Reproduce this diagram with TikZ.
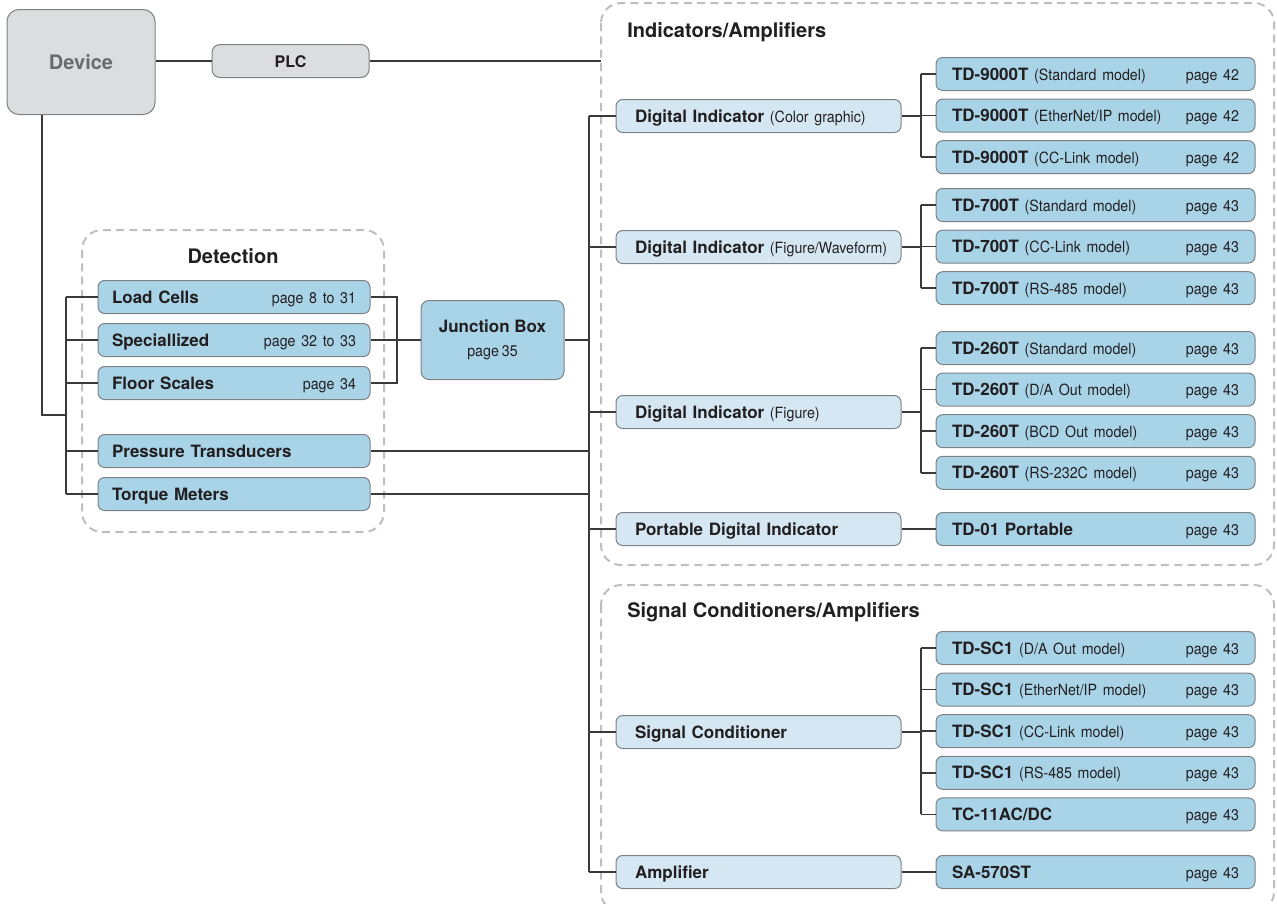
\documentclass[tikz,border=0pt]{standalone}
\usepackage{fontspec}
\setmainfont{TeX Gyre Heros}
\newfontfamily\cnd[FakeStretch=0.92,WordSpace=0.75]{TeX Gyre Heros}
\usepackage{tikz}
\usetikzlibrary{positioning}

\definecolor{modelblue}{HTML}{A9D4E8}
\definecolor{kindblue}{HTML}{D4E7F2}
\definecolor{devgray}{HTML}{DCDDDF}
\definecolor{boxline}{HTML}{7D8185}
\definecolor{dashgray}{HTML}{BEBEBE}
\definecolor{wire}{HTML}{3A3A3A}
\definecolor{ink}{HTML}{231F20}
\definecolor{devtext}{HTML}{6A6A6A}

\setlength\parindent{0pt}
\newcommand\descr[1]{{\cnd\fontsize{11.6}{13}\selectfont #1}}
\newcommand\mdl[3]{\textbf{#1} \descr{#2}\hskip 0pt plus 1filll\descr{#3}}

\begin{document}
\begin{tikzpicture}[x=0.75pt,y=-0.75pt,node distance=31.2pt]
\tikzstyle{unit} = [draw=boxline, line width=0.75pt, inner ysep=0pt, minimum height=24.75pt, font=\fontsize{12.75}{15}\selectfont, text=ink]
\tikzstyle{row} = [unit, rounded corners=5pt, text height=10pt, text depth=1pt]
\tikzstyle{model} = [row, fill=modelblue, inner xsep=12pt, text width=215.25pt]
\tikzstyle{kind} = [row, fill=kindblue, inner xsep=14.25pt, text width=185.25pt]
\tikzstyle{sensor} = [row, fill=modelblue, inner xsep=10.5pt, text width=183pt]
\tikzstyle{group} = [draw=dashgray, line width=1.5pt, dash pattern=on 6pt off 4pt, rounded corners=15pt]
\tikzstyle{title} = [font=\bfseries\fontsize{15}{18}\selectfont, text=ink, inner sep=0pt]
\tikzstyle{conn} = [draw=wire, line width=1.1pt]

\useasboundingbox (0,0) rectangle (1277,903);

% dashed groups
\draw[group] (82,230) rectangle (384,532);
\draw[group] (601,3) rectangle (1274,565);
\begin{scope}
\clip (0,0) rectangle (1277,903);
\draw[group] (601,585) rectangle (1274,912);
\end{scope}

\node[title] (dettitle) at (233,256) {Detection};
\node[title,anchor=west] (indtitle) at (627,32) {Indicators/Amplifiers};
\node[title,anchor=west] (sigtitle) at (627,612) {Signal Conditioners/Amplifiers};

\node[unit, fill=devgray, rounded corners=9pt, minimum width=111pt, minimum height=78.75pt, text height=11pt, text depth=0pt, font=\bfseries\fontsize{15}{18}\selectfont, text=devtext] (device) at (81,62) {Device};
\node[row, fill=devgray, rounded corners=6pt, minimum width=117.75pt, font=\bfseries\fontsize{12}{14}\selectfont] (plc) at (290.5,61) {PLC};

% detection
\node[sensor] (load) at (234,297) {\mdl{Load Cells}{}{page 8 to 31}};
\node[sensor] (spec) at (234,340) {\mdl{Speciallized}{}{page 32 to 33}};
\node[sensor] (floor) at (234,383) {\mdl{Floor Scales}{}{page 34}};
\node[sensor] (press) at (234,451) {\mdl{Pressure Transducers}{}{}};
\node[sensor] (torque) at (234,494) {\mdl{Torque Meters}{}{}};

\node[unit, fill=modelblue, rounded corners=6pt, minimum width=107.25pt, minimum height=59.25pt, align=center] (jbox) at (492.5,340) {\textbf{Junction Box}\\[3pt]\descr{page 35}};

% indicators and conditioners
\node[kind] (dicolor) at (758.5,116) {\mbox{\textbf{Digital Indicator} \descr{(Color graphic)}}};
\node[kind] (diwave) at (758.5,247) {\mbox{\textbf{Digital Indicator} \descr{(Figure/Waveform)}}};
\node[kind] (difig) at (758.5,412) {\mbox{\textbf{Digital Indicator} \descr{(Figure)}}};
\node[kind] (diport) at (758.5,529) {\textbf{Portable Digital Indicator}};
\node[kind] (sigcond) at (758.5,732) {\textbf{Signal Conditioner}};
\node[kind] (amp) at (758.5,872) {\textbf{Amplifier}};

\node[model] (td9a) at (1095.5,74) {\mdl{TD-9000T}{(Standard model)}{page 42}};
\node[model,below of=td9a] (td9b) {\mdl{TD-9000T}{(EtherNet/IP model)}{page 42}};
\node[model,below of=td9b] (td9c) {\mdl{TD-9000T}{(CC-Link model)}{page 42}};

\node[model] (td7a) at (1095.5,205) {\mdl{TD-700T}{(Standard model)}{page 43}};
\node[model,below of=td7a] (td7b) {\mdl{TD-700T}{(CC-Link model)}{page 43}};
\node[model,below of=td7b] (td7c) {\mdl{TD-700T}{(RS-485 model)}{page 43}};

\node[model] (td2a) at (1095.5,348) {\mdl{TD-260T}{(Standard model)}{page 43}};
\node[model,below of=td2a] (td2b) {\mdl{TD-260T}{(D/A Out model)}{page 43}};
\node[model,below of=td2b] (td2c) {\mdl{TD-260T}{(BCD Out model)}{page 43}};
\node[model,below of=td2c] (td2d) {\mdl{TD-260T}{(RS-232C model)}{page 43}};

\node[model] (td01) at (1095.5,529) {\mdl{TD-01 Portable}{}{page 43}};

\node[model] (sc1a) at (1095.5,648) {\mdl{TD-SC1}{(D/A Out model)}{page 43}};
\node[model,below of=sc1a] (sc1b) {\mdl{TD-SC1}{(EtherNet/IP model)}{page 43}};
\node[model,below of=sc1b] (sc1c) {\mdl{TD-SC1}{(CC-Link model)}{page 43}};
\node[model,below of=sc1c] (sc1d) {\mdl{TD-SC1}{(RS-485 model)}{page 43}};
\node[model,below of=sc1d] (tc11) {\mdl{TC-11AC/DC}{}{page 43}};

\node[model] (sa570) at (1095.5,872) {\mdl{SA-570ST}{}{page 43}};

% connectors
\coordinate (plcend) at (601,61);
\draw[conn] (plc.west) -- (plc.west -| device.east);
\draw[conn] (plc.east) -- (plcend);

\coordinate (devdrop) at (42,415);
\coordinate (lbus) at (66,415);
\draw[conn] (device.south -| devdrop) -- (devdrop) -- (lbus);
\draw[conn] (lbus |- load.west) -- (lbus |- torque.west);
\foreach \s in {load,spec,floor,press,torque}
  \draw[conn] (lbus |- \s.west) -- (\s.west);

\coordinate (jbend) at (397,340);
\draw[conn] (load.east) -- (load.east -| jbend) -- (floor.east -| jbend) -- (floor.east);
\draw[conn] (spec.east) -- (jbox.west);

\coordinate (mbus) at (589,0);
\draw[conn] (mbus |- dicolor.west) -- (mbus |- amp.west);
\foreach \s in {jbox,press,torque}
  \draw[conn] (\s.east) -- (\s.east -| mbus);
\foreach \s in {dicolor,diwave,difig,diport,sigcond,amp}
  \draw[conn] (mbus |- \s.west) -- (\s.west);

\coordinate (rbus) at (921,0);
\foreach \p/\a/\z in {dicolor/td9a/td9c,diwave/td7a/td7c,difig/td2a/td2d,sigcond/sc1a/tc11} {
  \draw[conn] (\p.east) -- (\p.east -| rbus);
  \draw[conn] (rbus |- \a.west) -- (rbus |- \z.west);
}
\foreach \c in {td9a,td9b,td9c,td7a,td7b,td7c,td2a,td2b,td2c,td2d,sc1a,sc1b,sc1c,sc1d,tc11}
  \draw[conn] (rbus |- \c.west) -- (\c.west);
\draw[conn] (diport) -- (td01);
\draw[conn] (amp) -- (sa570);

\end{tikzpicture}
\end{document}
